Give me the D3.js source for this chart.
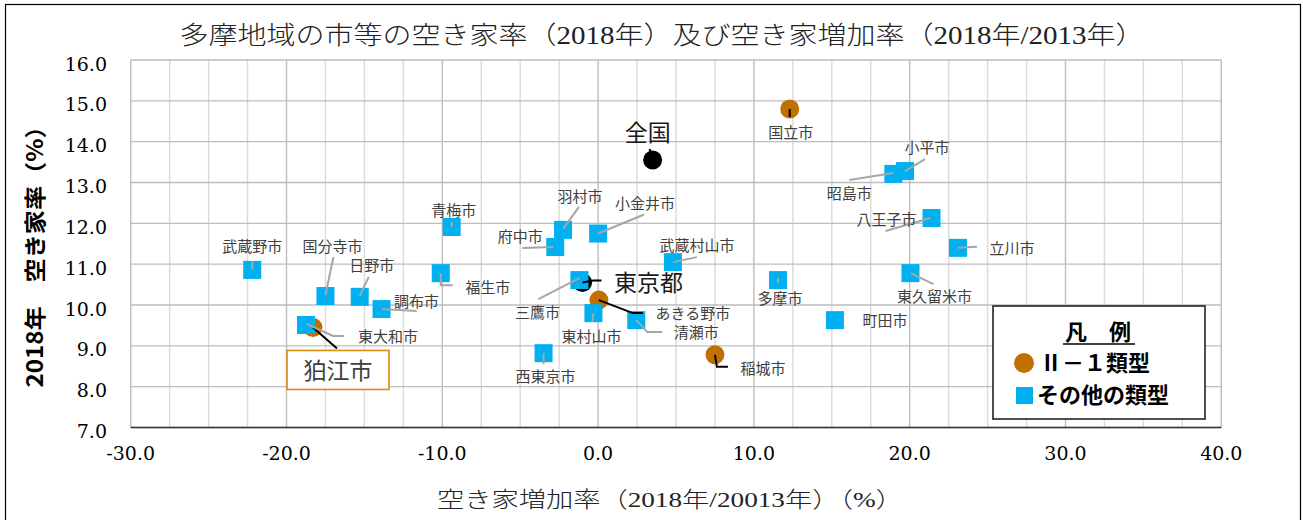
<!DOCTYPE html>
<html>
<head>
<meta charset="utf-8">
<title>多摩地域の空き家率</title>
<script src="https://cdnjs.cloudflare.com/ajax/libs/d3/7.8.5/d3.min.js"></script>
<style>
  body { margin: 0; background: #fff; }
  text { font-family: 'Noto Sans CJK JP', sans-serif; }
</style>
</head>
<body>
<div id="vis"></div>
<script>
var W = 1303, H = 520;

// 市区名, 空き家増加率(x), 空き家率(y), 類型
var names = ['全国', '東京都', '国立市', '狛江市', 'あきる野市', '稲城市',
  '武蔵野市', '国分寺市', '日野市', '調布市', '東大和市', '青梅市', '福生市',
  '府中市', '羽村市', '小金井市', '武蔵村山市', '三鷹市', '東村山市', '清瀬市',
  '西東京市', '多摩市', '町田市', '昭島市', '小平市', '八王子市', '立川市', '東久留米市'];
var zouka = [3.5, -1.0, 12.3, -18.3, 0.05, 7.5,
  -22.2, -17.5, -15.3, -13.9, -18.75, -9.4, -10.1,
  -2.75, -2.25, 0.0, 4.8, -1.2, -0.3, 2.45,
  -3.5, 11.55, 15.2, 18.95, 19.7, 21.4, 23.1, 20.05];
var akiya = [13.55, 10.55, 14.8, 9.45, 10.12, 8.78,
  10.86, 10.22, 10.2, 9.9, 9.51, 11.91, 10.78,
  11.42, 11.84, 11.75, 11.05, 10.61, 9.8, 9.63,
  8.82, 10.61, 9.63, 13.21, 13.28, 12.13, 11.4, 10.78];
var ruikei = ['ref', 'ref', 'II', 'II', 'II', 'II',
  'sono', 'sono', 'sono', 'sono', 'sono', 'sono', 'sono',
  'sono', 'sono', 'sono', 'sono', 'sono', 'sono', 'sono',
  'sono', 'sono', 'sono', 'sono', 'sono', 'sono', 'sono', 'sono'];

var xTicks = [-30, -20, -10, 0, 10, 20, 30, 40];
var yTicks = [7, 8, 9, 10, 11, 12, 13, 14, 15, 16];
var legendLabels = ['Ⅱ－１類型', 'その他の類型'];

// ラベル位置 (点からのずれ px) と引出線
var lab = {
  '全国': [-5, -27, [[-3, -11], [-1, -4]]],
  '東京都': [66, 0, [[0, 0], [11, -2], [19, -2]]],
  '国立市': [1, 24, [[0, 0], [0, 8]]],
  '狛江市': [25, 43, [[0, 0], [24, 21]]],
  'あきる野市': [94, 14, [[0, 0], [34, 13], [44, 13]]],
  '稲城市': [48, 14, [[0, 0], [2, 12], [13, 12]]],
  '武蔵野市': [0, -23, [[0, -9], [0, 0]]],
  '国分寺市': [7, -49, [[8, -39], [0, -1]]],
  '日野市': [12, -31, [[9, -20], [0, -1]]],
  '調布市': [35, -7, [[0, 0], [35, 2]]],
  '東大和市': [82, 12, [[1, -1], [27, 11], [38, 11]]],
  '青梅市': [2, -16, [[0, -5], [0, 0]]],
  '福生市': [47, 15, [[0, 0], [0, 12], [12, 12]]],
  '府中市': [-35, -10, [[-33, 1], [-2, 0]]],
  '羽村市': [17, -33, [[16, -23], [0, -1]]],
  '小金井市': [47, -30, [[0, 0], [46, -19]]],
  '武蔵村山市': [24, -16, [[0, 0], [24, -5]]],
  '三鷹市': [-42, 33, [[0, -2], [-41, 19]]],
  '東村山市': [-2, 24, [[0, 0], [-1, 9]]],
  '清瀬市': [60, 13, [[0, 0], [11, 12], [26, 12]]],
  '西東京市': [2, 24, [[0, 0], [0, 11]]],
  '多摩市': [2, 19, [[0, -2], [0, 3]]],
  '町田市': [50, 1, null],
  '昭島市': [-44, 20, [[0, -1], [-44, 6]]],
  '小平市': [22, -23, [[0, 0], [20, -12]]],
  '八王子市': [-45, 2, [[-1, 0], [-46, 13]]],
  '立川市': [54, 1, [[0, 0], [19, -1]]],
  '東久留米市': [24, 24, [[0, 0], [23, 11]]]
};

var orange = '#c07000', blue = '#00b0f0';

var svg = d3.select('#vis').append('svg')
  .attr('width', W).attr('height', H);

svg.append('rect').attr('x', 5.5).attr('y', 4.5).attr('width', 1295).attr('height', 540)
  .attr('fill', '#fff').attr('stroke', '#000').attr('stroke-width', 1.2);

var x = d3.scaleLinear().domain([-30, 40]).range([130.7, 1221.3]);
var y = d3.scaleLinear().domain([7, 16]).range([427.5, 60]);

// グリッド
var g = svg.append('g');
g.selectAll('line.vmin').data(d3.range(-30, 40.1, 2.5)).enter().append('line')
  .attr('x1', d => x(d)).attr('x2', d => x(d))
  .attr('y1', y(16)).attr('y2', y(7))
  .attr('stroke', d => d % 10 === 0 ? '#bdbdbd' : '#dadada')
  .attr('stroke-width', 1.4);
g.selectAll('line.h').data(yTicks).enter().append('line')
  .attr('x1', x(-30)).attr('x2', x(40))
  .attr('y1', d => y(d)).attr('y2', d => y(d))
  .attr('stroke', '#bdbdbd').attr('stroke-width', 1.4);
g.append('line').attr('x1', x(-30)).attr('x2', x(40)).attr('y1', y(7)).attr('y2', y(7))
  .attr('stroke', '#333').attr('stroke-width', 1.6);

// 目盛
svg.selectAll('text.yt').data(yTicks).enter().append('text')
  .attr('x', 107).attr('y', d => y(d) + 4)
  .attr('dy', '0.35em').attr('text-anchor', 'end')
  .style('font-family', "'DejaVu Serif', serif").style('font-size', '19px')
  .text(d => d.toFixed(1));
svg.selectAll('text.xt').data(xTicks).enter().append('text')
  .attr('x', d => x(d)).attr('y', 453)
  .attr('dy', '0.35em').attr('text-anchor', 'middle')
  .style('font-family', "'DejaVu Serif', serif").style('font-size', '19px')
  .text(d => d.toFixed(1));

// タイトル類
svg.append('text').attr('x', 662).attr('y', 35).attr('dy', '0.35em')
  .attr('text-anchor', 'middle').attr('textLength', 965).attr('lengthAdjust', 'spacingAndGlyphs')
  .style('font-family', "'Liberation Serif', 'Noto Sans CJK JP'").style('font-size', '25px')
  .style('font-weight', 300).attr('fill', '#222')
  .text('多摩地域の市等の空き家率（2018年）及び空き家増加率（2018年/2013年）');
svg.append('text').attr('x', 670).attr('y', 499).attr('dy', '0.35em')
  .attr('text-anchor', 'middle').attr('textLength', 466).attr('lengthAdjust', 'spacingAndGlyphs')
  .style('font-family', "'Liberation Serif', 'Noto Sans CJK JP'").style('font-size', '22px')
  .style('font-weight', 300).attr('fill', '#222')
  .text('空き家増加率（2018年/20013年）（%）');
svg.append('text').attr('transform', 'translate(35,251) rotate(-90)').attr('dy', '0.35em')
  .attr('text-anchor', 'middle').attr('textLength', 273).attr('lengthAdjust', 'spacingAndGlyphs')
  .style('font-size', '22px').style('font-weight', 'bold')
  .text('2018年　空き家率（%）');

// 点
var pts = names.map(function(n, i) {
  return {name: n, px: x(zouka[i]), py: y(akiya[i]), t: ruikei[i]};
});

svg.selectAll('circle.pt').data(pts.filter(d => d.t !== 'sono')).enter().append('circle')
  .attr('cx', d => d.px).attr('cy', d => d.py).attr('r', 9.5)
  .attr('fill', d => d.t === 'II' ? orange : '#000');
svg.selectAll('rect.pt').data(pts.filter(d => d.t === 'sono')).enter().append('rect')
  .attr('x', d => d.px - 9).attr('y', d => d.py - 9)
  .attr('width', 18).attr('height', 18).attr('fill', blue);

// 引出線
var line = d3.line();
svg.selectAll('path.lead').data(pts.filter(d => lab[d.name][2])).enter().append('path')
  .attr('d', d => line(lab[d.name][2].map(p => [d.px + p[0], d.py + p[1]])))
  .attr('fill', 'none')
  .attr('stroke', d => d.t === 'sono' ? '#a6a6a6' : '#000')
  .attr('stroke-width', 2);

// 狛江市の枠
var koma = pts[names.indexOf('狛江市')];
svg.append('rect').attr('x', koma.px + lab['狛江市'][0] - 51).attr('y', koma.py + lab['狛江市'][1] - 20)
  .attr('width', 102).attr('height', 39)
  .attr('fill', '#fff').attr('stroke', '#d88a12').attr('stroke-width', 1.6);

svg.selectAll('text.lab').data(pts).enter().append('text')
  .attr('x', d => d.px + lab[d.name][0]).attr('y', d => d.py + lab[d.name][1])
  .attr('dy', '0.35em').attr('text-anchor', 'middle')
  .style('font-size', d => d.t === 'ref' || d.name === '狛江市' ? '23px' : '15px')
  .attr('fill', d => d.t === 'ref' ? '#1a1a1a' : '#404040')
  .text(d => d.name);

// 凡例
var lg = svg.append('g').attr('transform', 'translate(993,306)');
lg.append('rect').attr('width', 212).attr('height', 113)
  .attr('fill', '#fff').attr('stroke', '#222').attr('stroke-width', 1.6);
lg.append('text').attr('x', 105).attr('y', 26).attr('dy', '0.35em').attr('text-anchor', 'middle')
  .style('font-size', '22px').style('font-weight', 'bold').text('凡　例');
lg.append('line').attr('x1', 70).attr('x2', 142).attr('y1', 38).attr('y2', 38)
  .attr('stroke', '#000').attr('stroke-width', 1.6);
lg.append('circle').attr('cx', 31).attr('cy', 57).attr('r', 10).attr('fill', orange);
lg.append('rect').attr('x', 23).attr('y', 81).attr('width', 17).attr('height', 17).attr('fill', blue);
lg.selectAll('text.li').data(legendLabels).enter().append('text')
  .attr('x', (d, i) => i === 0 ? 47 : 44).attr('y', (d, i) => 57 + i * 32)
  .attr('dy', '0.35em')
  .style('font-size', '22px').style('font-weight', 'bold')
  .text(d => d);
</script>
</body>
</html>
